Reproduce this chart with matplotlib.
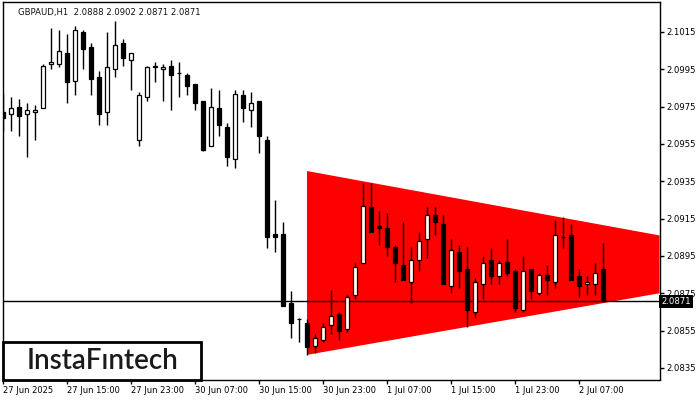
import matplotlib.pyplot as plt
from matplotlib.patches import Rectangle, Polygon

# GBPAUD H1 candles
opens = [2.0972, 2.0971, 2.0975, 2.0971, 2.0972, 2.0974, 2.0998, 2.0998, 2.1004, 2.0989,
         2.1015, 2.1007, 2.0991, 2.0972, 2.0995, 2.1009, 2.1000, 2.0957, 2.0980, 2.0997,
         2.0995, 2.0997, 2.0993, 2.0992, 2.0987, 2.0978, 2.0954, 2.0974, 2.0964, 2.0947,
         2.0981, 2.0973, 2.0978, 2.0957, 2.0907, 2.0907, 2.0870, 2.0861, 2.0859, 2.0847,
         2.0850, 2.0858, 2.0864, 2.0856, 2.0874, 2.0891, 2.0921, 2.0911, 2.0910, 2.0900,
         2.0890, 2.0881, 2.0893, 2.0904, 2.0917, 2.0912, 2.0879, 2.0897, 2.0888, 2.0865,
         2.0880, 2.0893, 2.0884, 2.0892, 2.0887, 2.0866, 2.0888, 2.0875, 2.0885, 2.0881,
         2.0905, 2.0906, 2.0884, 2.0880, 2.0880, 2.0888]
highs = [2.0982, 2.0980, 2.0979, 2.0977, 2.0976, 2.0998, 2.1017, 2.1016, 2.1014, 2.1018,
         2.1016, 2.1009, 2.0994, 2.1015, 2.1021, 2.1011, 2.1004, 2.0983, 2.0997, 2.0999,
         2.0998, 2.1000, 2.0999, 2.0993, 2.0987, 2.0978, 2.0985, 2.0984, 2.0966, 2.0984,
         2.0984, 2.0983, 2.0978, 2.0959, 2.0925, 2.0913, 2.0876, 2.0862, 2.0861, 2.0853,
         2.0859, 2.0877, 2.0865, 2.0874, 2.0891, 2.0934, 2.0934, 2.0919, 2.0918, 2.0901,
         2.0913, 2.0900, 2.0908, 2.0921, 2.0921, 2.0917, 2.0904, 2.0901, 2.0900, 2.0883,
         2.0895, 2.0899, 2.0893, 2.0904, 2.0888, 2.0895, 2.0888, 2.0886, 2.0890, 2.0914,
         2.0916, 2.0912, 2.0888, 2.0884, 2.0891, 2.0902]
lows = [2.0962, 2.0962, 2.0959, 2.0948, 2.0957, 2.0974, 2.0995, 2.0996, 2.0977, 2.0981,
        2.0995, 2.0981, 2.0965, 2.0965, 2.0991, 2.0997, 2.0984, 2.0954, 2.0978, 2.0988,
        2.0978, 2.0973, 2.0980, 2.0981, 2.0973, 2.0951, 2.0954, 2.0959, 2.0943, 2.0942,
        2.0967, 2.0964, 2.0950, 2.0899, 2.0897, 2.0868, 2.0851, 2.0849, 2.0842, 2.0843,
        2.0849, 2.0853, 2.0850, 2.0854, 2.0872, 2.0891, 2.0908, 2.0901, 2.0895, 2.0881,
        2.0882, 2.0870, 2.0887, 2.0894, 2.0906, 2.0880, 2.0875, 2.0878, 2.0857, 2.0862,
        2.0872, 2.0880, 2.0880, 2.0884, 2.0865, 2.0865, 2.0872, 2.0874, 2.0874, 2.0878,
        2.0899, 2.0882, 2.0873, 2.0874, 2.0874, 2.0871]
closes = [2.0969, 2.0974, 2.0970, 2.0973, 2.0973, 2.0997, 2.0999, 2.1005, 2.0988, 2.1016,
          2.1006, 2.0990, 2.0971, 2.0996, 2.1008, 2.1001, 2.1004, 2.0981, 2.0996, 2.0996,
          2.0996, 2.0992, 2.0993, 2.0986, 2.0977, 2.0952, 2.0975, 2.0965, 2.0948, 2.0982,
          2.0974, 2.0977, 2.0959, 2.0905, 2.0905, 2.0868, 2.0859, 2.0861, 2.0846, 2.0851,
          2.0857, 2.0863, 2.0855, 2.0873, 2.0889, 2.0922, 2.0908, 2.0910, 2.0900, 2.0891,
          2.0882, 2.0893, 2.0903, 2.0917, 2.0913, 2.0880, 2.0898, 2.0887, 2.0866, 2.0881,
          2.0891, 2.0884, 2.0891, 2.0886, 2.0867, 2.0887, 2.0876, 2.0885, 2.0882, 2.0906,
          2.0905, 2.0882, 2.0879, 2.0881, 2.0886, 2.0871]

time_labels = ['27 Jun 2025', '27 Jun 15:00', '27 Jun 23:00', '30 Jun 07:00', '30 Jun 15:00',
               '30 Jun 23:00', '1 Jul 07:00', '1 Jul 15:00', '1 Jul 23:00', '2 Jul 07:00']
price_ticks = [2.0835, 2.0855, 2.0875, 2.0895, 2.0915, 2.0935, 2.0955, 2.0975, 2.0995, 2.1015]

# triangle pattern (bearish symmetrical triangle)
tri_start = 38
tri_upper = [2.09405, 2.0906]
tri_lower = [2.0842, 2.0875]
last_price = closes[-1]

font = 'DejaVu Sans'
fig = plt.figure(figsize=(7, 4), dpi=100)
ax = fig.add_axes([2.5 / 700, 20.5 / 400, 657 / 700, 377.2 / 400])

x_max = 82.06
ax.set_xlim(-0.06, x_max)
ax.set_ylim(2.08288, 2.10309)

ax.add_patch(Polygon([[tri_start, tri_upper[0]], [x_max, tri_upper[1]],
                      [x_max, tri_lower[1]], [tri_start, tri_lower[0]]],
                     closed=True, facecolor='#ff0000', edgecolor='none', zorder=1))

ax.axhline(last_price, color='black', lw=1, zorder=2)

w = 0.6
for i in range(len(opens)):
    o, h, l, c = opens[i], highs[i], lows[i], closes[i]
    ax.vlines(i, l, h, color='black', lw=1, zorder=3)
    bottom = min(o, c)
    height = abs(c - o)
    fc = 'white' if c > o else 'black'
    ax.add_patch(Rectangle((i - w / 2, bottom), w, height, facecolor=fc,
                           edgecolor='black', lw=0.9, zorder=4))

ax.set_xticks(range(0, 80, 8))
ax.set_xticklabels(time_labels, ha='left', fontsize=6, family=font)
ax.set_yticks(price_ticks)
ax.set_yticklabels(['%.4f' % p for p in price_ticks], fontsize=6.1, family=font)
ax.yaxis.tick_right()
ax.tick_params(axis='y', length=3, width=1, pad=2)
ax.tick_params(axis='x', length=3, width=1, pad=2)
for s in ax.spines.values():
    s.set_linewidth(1)

# title
ax.text(0.024, 0.985, 'GBPAUD,H1  2.0888 2.0902 2.0871 2.0871', transform=ax.transAxes,
        fontsize=6.1, family=font, va='top', ha='left', color='#111111')

# last price label (covers the 2.0875 tick label like in the terminal)
ax.text(1.003, last_price - 0.00003, '2.0871', transform=ax.get_yaxis_transform(),
        fontsize=6.1, family=font, va='center', ha='left', color='white', clip_on=False,
        zorder=10, bbox=dict(boxstyle='square,pad=0.25', facecolor='black', edgecolor='none'))

# logo box
ax.add_patch(Rectangle((0.0005, 0.0), 0.302, 0.1, transform=ax.transAxes, facecolor='white',
                       edgecolor='black', lw=2, zorder=5, clip_on=False))
ax.text(0.152, 0.05, 'InstaF\u0131ntech', transform=ax.transAxes, fontsize=20, family='Lato',
        fontweight='semibold', va='center', ha='center', color='#1a1a1a', zorder=6)

plt.savefig('out.png', dpi=100)
